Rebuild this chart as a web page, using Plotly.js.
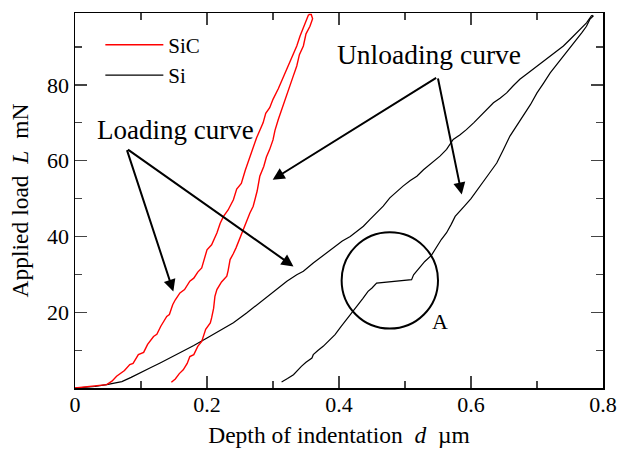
<!DOCTYPE html>
<html><head><meta charset="utf-8">
<script src="https://cdn.plot.ly/plotly-3.0.1.min.js"></script>
<style>html,body{margin:0;padding:0;background:#fff;}#chart{width:617px;height:456px;}</style>
</head><body><div id="chart"></div>
<script>
// SiC loading curve (depth um, load mN)
const sicLoadX = [0,0.02,0.048,0.056,0.063,0.075,0.083,0.088,0.096,0.104,0.110,0.119,0.124,0.130,0.139,0.143,0.148,0.152,0.159,0.166,0.174,0.180,0.186,0.192,0.195,0.200,0.207,0.215,0.220,0.225,0.232,0.240,0.245,0.252,0.258,0.265,0.270,0.275,0.285,0.289,0.295,0.300,0.308,0.316,0.322,0.331,0.336,0.341,0.346,0.351,0.354];
const sicLoadY = [0,0.3,0.9,1.8,3.1,4.6,6.2,6.5,8.8,9.4,11.5,13.6,14.2,16.3,18.9,19.4,22.0,23.3,25.1,26.0,28.2,29.0,30.6,31.7,33.5,36.5,37.8,40.9,43.5,45.3,47.0,49.7,52.5,54.0,57.5,61.2,63.5,66.0,70.0,72.5,74.0,76.2,79.0,82.3,84.5,88.5,90.3,92.9,95.0,97.3,98.6];
// SiC unloading curve
const sicUnloadX = [0.354,0.358,0.360,0.356,0.350,0.346,0.340,0.336,0.330,0.326,0.321,0.316,0.311,0.308,0.303,0.300,0.295,0.290,0.286,0.280,0.276,0.272,0.270,0.265,0.258,0.250,0.244,0.240,0.235,0.232,0.230,0.222,0.215,0.212,0.210,0.207,0.205,0.198,0.192,0.186,0.180,0.174,0.170,0.164,0.158,0.152,0.146];
const sicUnloadY = [98.6,98.6,97.5,95.5,93.5,90.3,88.0,85.0,82.0,80.0,77.9,75.5,72.5,70.9,68.0,65.5,63.0,61.0,58.5,55.9,52.0,49.5,48.0,46.2,43.0,39.2,37.0,35.5,33.9,31.0,29.5,28.0,26.0,24.2,21.0,18.5,17.2,15.5,12.3,11.0,8.8,8.3,6.5,4.8,3.8,2.4,1.5];
// Si loading curve
const siLoadX = [0,0.03,0.048,0.060,0.071,0.085,0.098,0.115,0.129,0.145,0.159,0.180,0.200,0.220,0.240,0.260,0.280,0.295,0.311,0.321,0.336,0.346,0.361,0.375,0.391,0.405,0.417,0.437,0.447,0.457,0.467,0.477,0.487,0.497,0.508,0.518,0.528,0.538,0.553,0.563,0.573,0.583,0.593,0.604,0.614,0.624,0.634,0.644,0.654,0.664,0.674,0.687,0.700,0.710,0.720,0.730,0.740,0.750,0.760,0.768,0.775,0.783];
const siLoadY = [0,0.4,0.9,1.3,1.7,2.8,4.0,5.4,6.6,8.0,9.2,11.2,13.2,15.2,17.2,19.8,22.5,24.6,26.8,28.2,29.9,30.8,33.0,34.8,37.0,38.8,40.0,42.7,44.5,46.2,48.0,50.2,51.8,53.3,54.8,55.9,57.6,59.0,61.2,63.0,65.6,66.8,68.2,70.0,71.8,73.5,75.3,76.5,77.9,79.8,81.5,83.2,85.0,86.3,87.6,89.0,90.3,92.0,93.8,95.0,96.4,98.4];
// Si unloading curve
const siUnloadX = [0.783,0.785,0.780,0.775,0.768,0.760,0.750,0.740,0.730,0.720,0.710,0.700,0.690,0.679,0.669,0.659,0.649,0.639,0.627,0.614,0.600,0.590,0.583,0.576,0.570,0.563,0.555,0.548,0.540,0.530,0.522,0.515,0.513,0.510,0.457,0.450,0.444,0.436,0.427,0.420,0.412,0.403,0.394,0.385,0.376,0.368,0.361,0.359,0.350,0.343,0.337,0.331,0.322,0.313];
const siUnloadY = [98.4,98.2,97.3,95.5,93.8,92.0,89.8,87.6,85.4,83.2,80.5,77.9,74.8,71.8,69.2,66.5,62.9,59.4,56.5,53.3,50.0,48.0,46.7,45.3,43.2,41.0,39.2,37.4,35.0,33.4,31.8,30.4,29.9,28.6,27.7,26.4,25.5,23.6,21.6,20.2,18.5,16.2,14.1,12.5,11.0,9.9,8.8,7.9,6.8,5.7,4.5,3.5,2.5,1.6];

const xTicks = [0, 0.2, 0.4, 0.6, 0.8];
const xTickText = ['0', '0.2', '0.4', '0.6', '0.8'];
const yTicks = [20, 40, 60, 80];
const yTickText = ['20', '40', '60', '80'];

const serif = '"Liberation Serif", "Times New Roman", serif';

const traces = [
  {x: siLoadX, y: siLoadY, mode: 'lines', name: 'Si', legendgroup: 'si', legendrank: 2,
   line: {color: '#000', width: 1.2}},
  {x: siUnloadX, y: siUnloadY, mode: 'lines', name: 'Si', legendgroup: 'si', showlegend: false,
   line: {color: '#000', width: 1.2}},
  {x: sicLoadX, y: sicLoadY, mode: 'lines', name: 'SiC', legendgroup: 'sic', legendrank: 1,
   line: {color: '#ff0000', width: 1.4}},
  {x: sicUnloadX, y: sicUnloadY, mode: 'lines', name: 'SiC', legendgroup: 'sic', showlegend: false,
   line: {color: '#ff0000', width: 1.4}}
];

function arrow(tx, ty, fx, fy) {
  return {x: tx, y: ty, ax: fx, ay: fy, xref: 'x', yref: 'y', axref: 'x', ayref: 'y',
    text: '', showarrow: true, arrowhead: 2, arrowsize: 1.2, arrowwidth: 2, arrowcolor: '#000'};
}

const layout = {
  width: 617, height: 456,
  margin: {l: 75, r: 14, t: 13, b: 68},
  paper_bgcolor: '#fff', plot_bgcolor: '#fff',
  font: {family: serif, size: 21, color: '#000'},
  showlegend: true,
  legend: {x: 0.048, y: 0.969, xanchor: 'left', yanchor: 'top', bgcolor: 'rgba(0,0,0,0)',
    font: {family: serif, size: 21, color: '#000'}, tracegroupgap: 0, itemwidth: 58},
  xaxis: {range: [0, 0.8], tickvals: xTicks, ticktext: xTickText, ticks: 'inside', ticklen: 12,
    tickwidth: 1.2, showline: true, linewidth: 1.5, linecolor: '#000', mirror: 'ticks',
    showgrid: false, zeroline: false, ticklabelstandoff: -4,
    tickfont: {family: serif, size: 22, color: '#000'},
    minor: {dtick: 0.1, ticks: 'inside', ticklen: 7, tickwidth: 1.2, showgrid: false},
    title: {text: 'Depth of indentation\u00a0\u00a0<i>d</i>\u00a0\u00a0\u00b5m',
      font: {family: serif, size: 23.5, color: '#000'}, standoff: 10}},
  yaxis: {range: [0, 99], tickvals: yTicks, ticktext: yTickText, ticks: 'inside', ticklen: 12,
    tickwidth: 1.2, showline: true, linewidth: 1.5, linecolor: '#000', mirror: 'ticks',
    showgrid: false, zeroline: false,
    tickfont: {family: serif, size: 22, color: '#000'},
    minor: {dtick: 10, ticks: 'inside', ticklen: 7, tickwidth: 1.2, showgrid: false},
    title: {text: 'Applied load\u00a0\u00a0<i>L</i>\u00a0\u00a0mN',
      font: {family: serif, size: 23.5, color: '#000'}, standoff: 12}},
  shapes: [
    {type: 'circle', xref: 'x', yref: 'y', x0: 0.404, x1: 0.550, y0: 15.7, y1: 41.1,
     line: {color: '#000', width: 2}}
  ],
  annotations: [
    {x: 0.1523, y: 68.2, xref: 'x', yref: 'y', text: 'Loading curve', showarrow: false,
     font: {family: serif, size: 27, color: '#000'}},
    {x: 0.5356, y: 88.1, xref: 'x', yref: 'y', text: 'Unloading curve', showarrow: false,
     font: {family: serif, size: 27.5, color: '#000'}},
    {x: 0.538, y: 17.6, xref: 'x', yref: 'y', text: 'A', showarrow: false, xanchor: 'left',
     font: {family: serif, size: 22, color: '#000'}},
    arrow(0.149, 25.5, 0.078, 63.2),
    arrow(0.331, 32.1, 0.078, 63.2),
    arrow(0.586, 51.1, 0.5495, 82.1),
    arrow(0.2995, 55.0, 0.5495, 82.1)
  ]
};

Plotly.newPlot('chart', traces, layout, {staticPlot: true, displayModeBar: false});
</script></body></html>
